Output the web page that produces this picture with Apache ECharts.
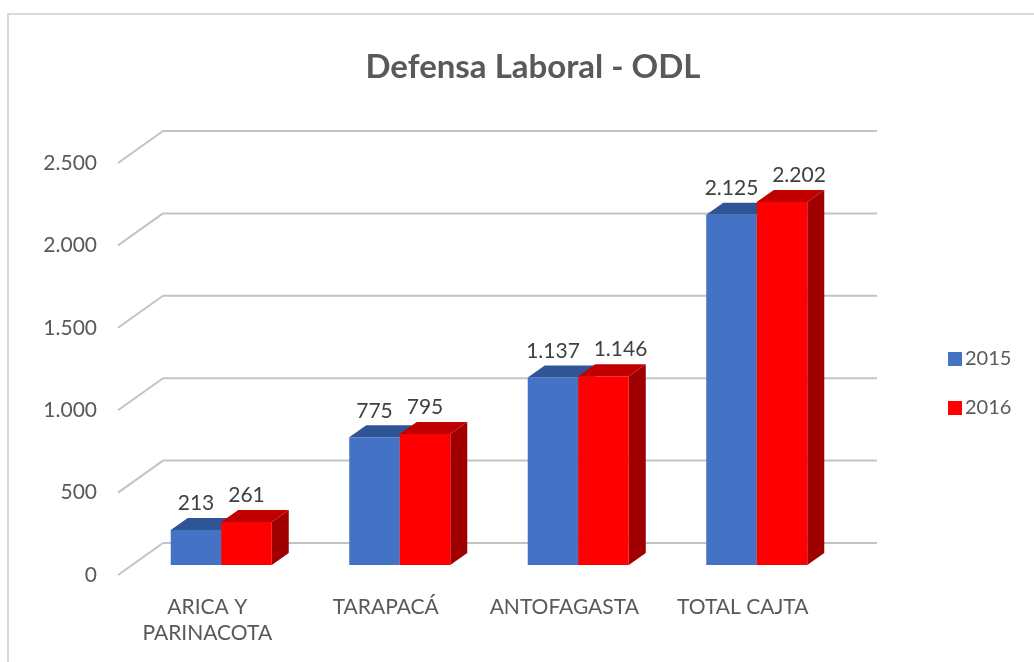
<!DOCTYPE html>
<html>
<head>
<meta charset="utf-8">
<script src="https://cdn.jsdelivr.net/npm/echarts@6/dist/echarts.min.js"></script>
<style>
  html, body { margin: 0; padding: 0; background: #fff; }
  #chart { width: 1034px; height: 662px; }
</style>
</head>
<body>
<div id="chart"></div>
<script>
// datos
var categorias = ["ARICA Y\nPARINACOTA", "TARAPACÁ", "ANTOFAGASTA", "TOTAL CAJTA"];
var anios = ["2015", "2016"];
var datos2015 = [213, 775, 1137, 2125];
var datos2016 = [261, 795, 1146, 2202];
var ticksY = [0, 500, 1000, 1500, 2000, 2500];

// 3d: desplazamiento del fondo y de la profundidad de las barras
var fondoDx = 45, fondoDy = -32;
var barDx = 14, barDy = -10;
var profDx = 17, profDy = -12;

var colores = {
  "2015": { frente: "#4472C4", techo: "#2F5597", lado: "#2F5597" },
  "2016": { frente: "#FF0000", techo: "#C00000", lado: "#A00000" }
};

function fmt(v) {
  return String(v).replace(/\B(?=(\d{3})+(?!\d))/g, ".");
}

var chart = echarts.init(document.getElementById("chart"));

function lineasFondo(params, api) {
  var cs = params.coordSys;
  var y = api.coord([0, api.value(0)])[1];
  var estilo = { stroke: "#c3c3c3", lineWidth: 2 };
  return {
    type: "group",
    children: [
      { type: "line", shape: { x1: cs.x, y1: y, x2: cs.x + fondoDx, y2: y + fondoDy }, style: estilo },
      { type: "line", shape: { x1: cs.x + fondoDx, y1: y + fondoDy, x2: cs.x + cs.width + fondoDx, y2: y + fondoDy }, style: estilo }
    ]
  };
}

function barra3d(anio, lado) {
  return function (params, api) {
    var i = api.value(0), v = api.value(1);
    var c = api.coord([i, v]);
    var base = api.coord([i, 0]);
    var bw = api.size([1, 0])[0] * 0.283;
    var x0 = (lado < 0 ? c[0] - bw : c[0]) + barDx;
    var yt = c[1] + barDy;
    var yb = base[1] + barDy;
    var col = colores[anio];
    // como en excel, la etiqueta larga de la derecha se corre para no pisar a la otra
    var corrX = (lado > 0 && v >= 1000) ? profDx : 0;
    return {
      type: "group",
      children: [
        { type: "polygon", shape: { points: [[x0 + bw, yt], [x0 + bw + profDx, yt + profDy], [x0 + bw + profDx, yb + profDy], [x0 + bw, yb]] }, style: { fill: col.lado } },
        { type: "polygon", shape: { points: [[x0, yt], [x0 + bw, yt], [x0 + bw + profDx, yt + profDy], [x0 + profDx, yt + profDy]] }, style: { fill: col.techo } },
        { type: "rect", shape: { x: x0, y: yt, width: bw, height: yb - yt }, style: { fill: col.frente } },
        { type: "text", x: x0 + bw / 2 + corrX, y: yt - 16, style: { text: fmt(v), fill: "#404040", font: "21px Lato", align: "center", verticalAlign: "bottom" } }
      ]
    };
  };
}

chart.setOption({
  backgroundColor: "#fff",
  animation: false,
  title: {
    text: "Defensa Laboral - ODL",
    left: 528,
    textAlign: "center",
    top: 46,
    textStyle: { fontFamily: "Lato", fontWeight: "bold", fontSize: 33, color: "#595959" }
  },
  legend: {
    data: anios,
    orient: "vertical",
    left: 943,
    top: 344,
    icon: "rect",
    itemWidth: 14,
    itemHeight: 14,
    itemGap: 29,
    textStyle: { fontFamily: "Lato", fontSize: 20, color: "#595959", padding: [0, 0, 0, -2] }
  },
  graphic: [
    { type: "rect", shape: { x: 8, y: 14, width: 1200, height: 800 }, style: { fill: null, stroke: "#d9d9d9", lineWidth: 2 }, silent: true }
  ],
  grid: { left: 118, right: 202, top: 163, bottom: 87 },
  xAxis: {
    type: "category",
    data: categorias,
    axisLine: { show: false },
    axisTick: { show: false },
    axisLabel: { interval: 0, hideOverlap: false, margin: 19, fontFamily: "Lato", fontSize: 21, color: "#595959", lineHeight: 26 }
  },
  yAxis: {
    type: "value",
    min: 0,
    max: 2500,
    interval: 500,
    axisLine: { show: false },
    axisTick: { show: false },
    splitLine: { show: false },
    axisLabel: { margin: 21, fontFamily: "Lato", fontSize: 21, color: "#595959", formatter: fmt }
  },
  series: [
    { type: "custom", name: "fondo", renderItem: lineasFondo, data: ticksY.map(function (t) { return [t]; }), encode: { y: 0 }, silent: true, z: 1 },
    { type: "custom", name: "2015", renderItem: barra3d("2015", -1), itemStyle: { color: colores["2015"].frente },
      data: datos2015.map(function (v, i) { return [i, v]; }), encode: { x: 0, y: 1 }, z: 2 },
    { type: "custom", name: "2016", renderItem: barra3d("2016", 1), itemStyle: { color: colores["2016"].frente },
      data: datos2016.map(function (v, i) { return [i, v]; }), encode: { x: 0, y: 1 }, z: 3 }
  ]
});
</script>
</body>
</html>
